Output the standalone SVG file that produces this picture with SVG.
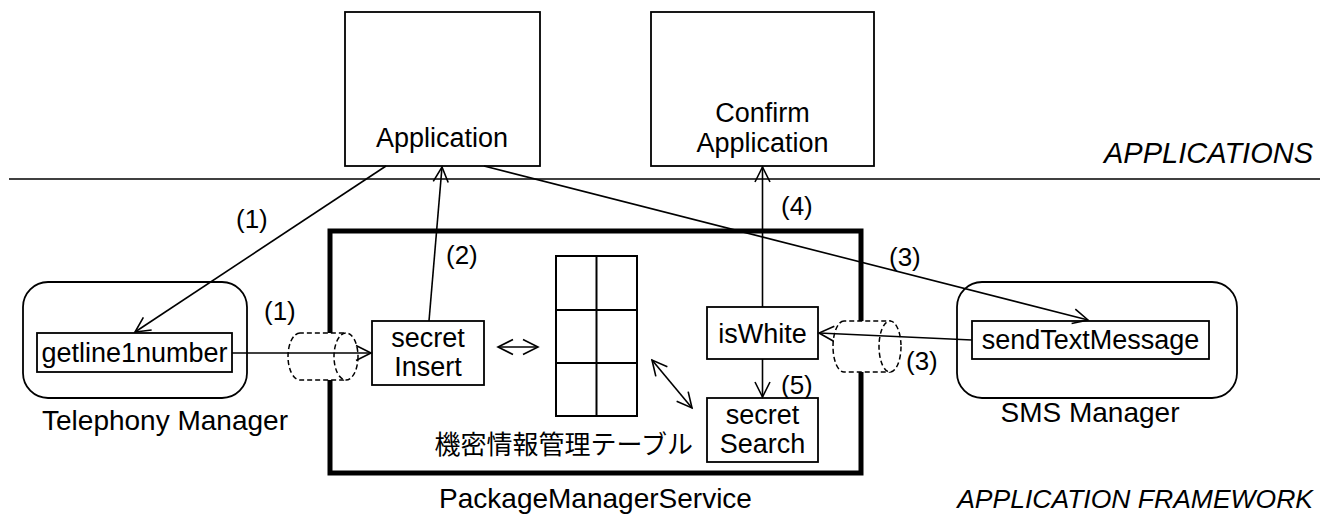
<svg xmlns="http://www.w3.org/2000/svg" width="1322" height="521" viewBox="0 0 1322 521">
<style>
text{font-family:"Liberation Sans","Noto Sans CJK JP",Arial,sans-serif;font-size:27px;fill:#000}
.c{text-anchor:middle}
.lbl{font-size:28px}
.num{font-size:26px}
.it{font-style:italic;text-anchor:end;font-size:28px}
.box{fill:#fff;stroke:#000;stroke-width:1.8}
.line{fill:none;stroke:#000;stroke-width:1.6}
.dash{fill:#fff;stroke:#000;stroke-width:1.5;stroke-dasharray:5 3}
</style>
<defs>
<marker id="ah" markerUnits="userSpaceOnUse" viewBox="-16 -9 18 18" refX="0" refY="0" markerWidth="18" markerHeight="18" orient="auto-start-reverse">
<path d="M-15,-7.5 L0,0 L-15,7.5" fill="none" stroke="#000" stroke-width="1.6"/>
</marker>
</defs>
<rect width="1322" height="521" fill="#fff"/>
<line x1="9" y1="179" x2="1320" y2="179" class="line"/>
<text x="1313" y="163" class="it" style="font-size:29px">APPLICATIONS</text>
<text x="1313" y="508" class="it" style="font-size:26.5px">APPLICATION FRAMEWORK</text>

<g id="application">
<rect x="345" y="12" width="195" height="154" class="box"/>
<text x="442" y="147" class="c">Application</text>
</g>
<g id="confirm-application">
<rect x="651" y="12" width="223" height="154" class="box"/>
<text x="762.5" y="122" class="c">Confirm</text>
<text x="762.5" y="152" class="c">Application</text>
</g>

<g id="package-manager-service">
<rect x="330" y="231" width="531" height="242" fill="none" stroke="#000" stroke-width="5"/>
<text x="595.5" y="508" class="c lbl">PackageManagerService</text>
</g>

<g id="telephony-manager">
<rect x="23" y="282" width="224" height="116" rx="25" class="box"/>
<rect x="37" y="333" width="195" height="39" class="box"/>
<text x="134.5" y="362" class="c">getline1number</text>
<text x="165" y="430" class="c lbl">Telephony Manager</text>
</g>

<g id="sms-manager">
<rect x="957" y="282" width="280" height="116" rx="25" class="box"/>
<rect x="972" y="321" width="237" height="38" class="box"/>
<text x="1090.5" y="349" class="c">sendTextMessage</text>
<text x="1090" y="422" class="c lbl">SMS Manager</text>
</g>

<g id="secret-insert">
<rect x="372" y="321" width="112" height="64" class="box"/>
<text x="428" y="347" class="c">secret</text>
<text x="428" y="376" class="c">Insert</text>
</g>

<g id="table">
<rect x="556" y="256" width="81" height="160" fill="#fff" stroke="#000" stroke-width="2"/>
<line x1="596.5" y1="256" x2="596.5" y2="416" stroke="#000" stroke-width="2"/>
<line x1="556" y1="310" x2="637" y2="310" stroke="#000" stroke-width="2"/>
<line x1="556" y1="363" x2="637" y2="363" stroke="#000" stroke-width="2"/>
<text x="693" y="454" style="text-anchor:end;font-size:26px">機密情報管理テーブル</text>
</g>

<g id="is-white">
<rect x="707" y="307" width="111" height="52" class="box"/>
<text x="762.5" y="343" class="c">isWhite</text>
</g>

<g id="secret-search">
<rect x="707" y="398" width="111" height="64" class="box"/>
<text x="762.5" y="424" class="c">secret</text>
<text x="762.5" y="453" class="c">Search</text>
</g>

<g id="channel-left">
<path d="M300,333 A12,23.5 0 0 0 300,380 L346,380 L346,333 Z" class="dash"/>
<ellipse cx="346" cy="356.5" rx="12" ry="23.5" class="dash"/>
</g>
<g id="channel-right">
<path d="M844,321 A11,25.5 0 0 0 844,372 L890,372 L890,321 Z" class="dash"/>
<ellipse cx="890" cy="346.5" rx="11" ry="25.5" class="dash"/>
</g>

<g id="connectors">
<line x1="386" y1="166" x2="135" y2="332" class="line" marker-end="url(#ah)"/>
<line x1="232" y1="353" x2="371" y2="353" class="line" marker-end="url(#ah)"/>
<line x1="429" y1="321" x2="442" y2="167" class="line" marker-end="url(#ah)"/>
<line x1="484" y1="166" x2="1088" y2="320" class="line" marker-end="url(#ah)"/>
<line x1="972" y1="340" x2="819" y2="333" class="line" marker-end="url(#ah)"/>
<line x1="762.5" y1="307" x2="762.5" y2="167" class="line" marker-end="url(#ah)"/>
<line x1="762.5" y1="359" x2="762.5" y2="397" class="line" marker-end="url(#ah)"/>
<line x1="498" y1="347" x2="538" y2="347" class="line" marker-start="url(#ah)" marker-end="url(#ah)"/>
<line x1="652" y1="360" x2="692" y2="408" class="line" marker-start="url(#ah)" marker-end="url(#ah)"/>
<text x="236" y="228" class="num">(1)</text>
<text x="264" y="320" class="num">(1)</text>
<text x="446" y="264" class="num">(2)</text>
<text x="889" y="266" class="num">(3)</text>
<text x="906" y="370" class="num">(3)</text>
<text x="781" y="215" class="num">(4)</text>
<text x="781" y="394" class="num">(5)</text>
</g>
</svg>
